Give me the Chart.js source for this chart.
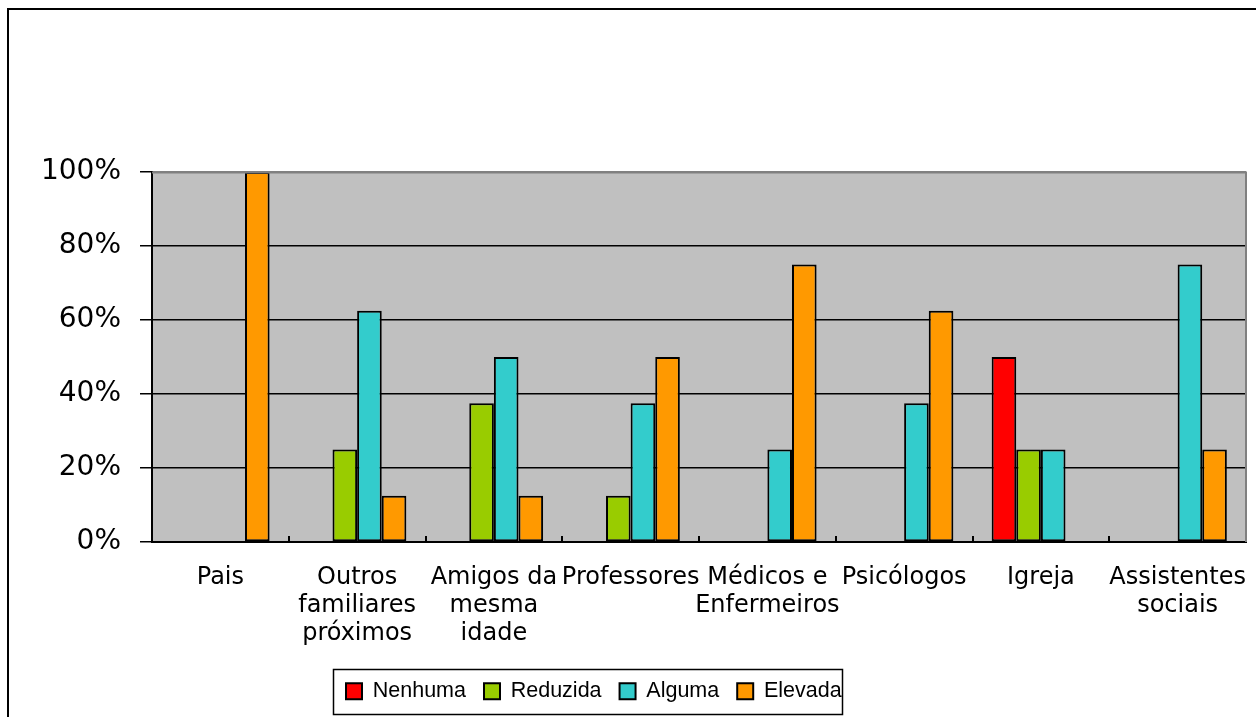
<!DOCTYPE html>
<html>
<head>
<meta charset="utf-8">
<script src="https://cdn.jsdelivr.net/npm/chart.js@4"></script>
<style>
  html, body { margin: 0; padding: 0; background: #fff; }
  #wrap { width: 1256px; height: 717px; position: relative; }
</style>
</head>
<body>
<div id="wrap"><canvas id="apoioChart"></canvas></div>
<script>
// Categorias e percentagens por nível de apoio
const categorias = [
    'Pais',
    ['Outros', 'familiares', 'próximos'],
    ['Amigos da', 'mesma', 'idade'],
    'Professores',
    ['Médicos e', 'Enfermeiros'],
    'Psicólogos',
    'Igreja',
    ['Assistentes', 'sociais']
];
const nenhuma  = [0, 0, 0, 0, 0, 0, 50, 0];
const reduzida = [0, 25, 37.5, 12.5, 0, 0, 25, 0];
const alguma   = [0, 62.5, 50, 37.5, 25, 37.5, 25, 75];
const elevada  = [100, 12.5, 12.5, 50, 75, 62.5, 0, 25];
const yTicks = [0, 20, 40, 60, 80, 100];

function serie(label, data, cor) {
    return {
        label: label,
        data: data,
        backgroundColor: cor,
        borderColor: '#000',
        borderWidth: 2,
        borderSkipped: false,
        barPercentage: 1,
        categoryPercentage: 0.72
    };
}

// Fundo cinzento, moldura exterior, caixa da legenda e marcas no eixo X
const molduras = {
    id: 'molduras',
    afterLayout(chart) {
        chart.legend.left = 328;
        chart.legend.right = 1246;
        chart.legend.width = chart.legend.right - chart.legend.left;
    },
    beforeDraw(chart) {
        const { ctx, chartArea: a } = chart;
        ctx.save();
        ctx.fillStyle = '#fff';
        ctx.fillRect(0, 0, chart.width, chart.height);
        ctx.fillStyle = '#c0c0c0';
        ctx.fillRect(a.left, a.top, a.right - a.left, a.bottom - a.top);
        ctx.strokeStyle = '#000';
        ctx.lineWidth = 2;
        ctx.strokeRect(8, 9, chart.width + 20, chart.height + 20);
        ctx.restore();
    },
    afterDatasetsDraw(chart) {
        const { ctx, chartArea: a, scales } = chart;
        const x = scales.x;
        ctx.save();
        ctx.strokeStyle = '#808080';
        ctx.lineWidth = 2;
        ctx.beginPath();
        ctx.moveTo(a.left, a.top + 0.5);
        ctx.lineTo(a.right, a.top + 0.5);
        ctx.lineTo(a.right, a.bottom);
        ctx.stroke();
        ctx.strokeStyle = '#000';
        ctx.lineWidth = 2;
        const passo = x.width / categorias.length;
        ctx.beginPath();
        for (let i = 1; i < categorias.length; i++) {
            const px = Math.round(x.left + i * passo);
            ctx.moveTo(px, a.bottom);
            ctx.lineTo(px, a.bottom - 6);
        }
        ctx.stroke();
        ctx.restore();
    },
    afterDraw(chart) {
        const { ctx } = chart;
        ctx.save();
        ctx.strokeStyle = '#000';
        ctx.lineWidth = 1.5;
        ctx.strokeRect(333.5, 669.5, 509, 45);
        ctx.restore();
    }
};

new Chart(document.getElementById('apoioChart'), {
    type: 'bar',
    data: {
        labels: categorias,
        datasets: [
            serie('Nenhuma', nenhuma, '#ff0000'),
            serie('Reduzida', reduzida, '#99cc00'),
            serie('Alguma', alguma, '#33cccc'),
            serie('Elevada', elevada, '#ff9900')
        ]
    },
    options: {
        responsive: true,
        maintainAspectRatio: false,
        animation: false,
        layout: { padding: { left: 0, right: 10, top: 172, bottom: 5 } },
        plugins: {
            tooltip: { enabled: false },
            legend: {
                position: 'bottom',
                align: 'start',
                labels: {
                    color: '#000',
                    boxWidth: 16,
                    boxHeight: 16,
                    padding: 18,
                    font: { family: '"Liberation Sans", Arial, sans-serif', size: 21.5 }
                }
            }
        },
        scales: {
            x: {
                afterFit(scale) {
                    scale.height = 120.5;
                    scale.paddingLeft = 0;
                    scale.paddingRight = 0;
                },
                grid: { display: false },
                border: { color: '#000', width: 2 },
                ticks: {
                    color: '#000',
                    padding: 14,
                    maxRotation: 0,
                    autoSkip: false,
                    font: { family: '"DejaVu Sans", sans-serif', size: 24, lineHeight: 28 / 24 }
                }
            },
            y: {
                min: 0,
                max: 100,
                afterFit(scale) { scale.width = 152; },
                afterBuildTicks(scale) { scale.ticks = yTicks.map(v => ({ value: v })); },
                grid: {
                    color: ctx => ctx.tick && ctx.tick.value === 100 ? '#808080' : '#000',
                    tickColor: '#000',
                    lineWidth: 1.5,
                    tickLength: 12
                },
                border: { color: '#000', width: 2 },
                ticks: {
                    color: '#000',
                    padding: 19,
                    callback: v => v + '%',
                    font: { family: '"DejaVu Sans", sans-serif', size: 28 }
                }
            }
        }
    },
    plugins: [molduras]
});
</script>
</body>
</html>
